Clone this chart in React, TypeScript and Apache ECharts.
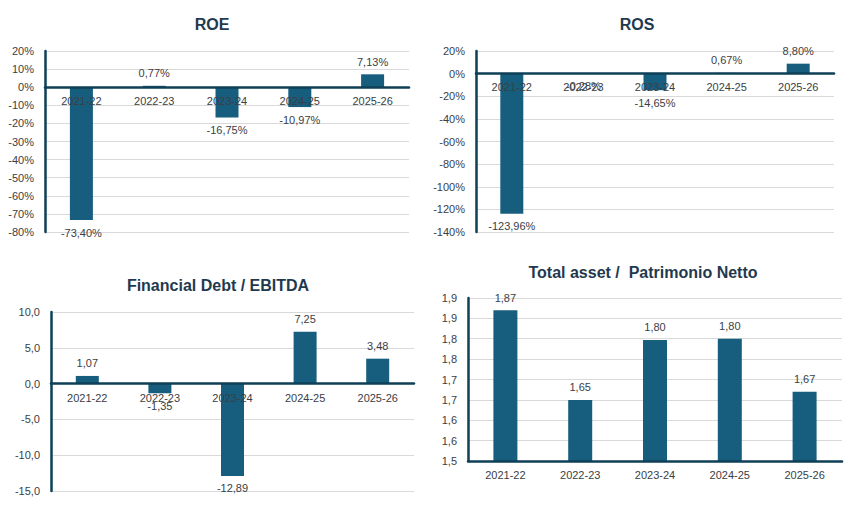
import { useEffect, useRef } from "react";
import * as echarts from "echarts";

const categories = ["2021-22", "2022-23", "2023-24", "2024-25", "2025-26"];
const roe = [-73.4, 0.77, -16.75, -10.97, 7.13];
const ros = [-123.96, -0.28, -14.65, 0.67, 8.8];
const debtEbitda = [1.07, -1.35, -12.89, 7.25, 3.48];
const assetEquity = [1.87, 1.65, 1.797, 1.8, 1.67];

const BAR = "#175E7E";
const AXIS = "#0E3F57";
const TEXT = "#3A3E45";
const TITLE = "#1F3A4F";
const FONT = "'Liberation Sans', Arial, sans-serif";

const comma = (v: number, d: number) => v.toFixed(d).replace(".", ",");

export default function App() {
  const ref = useRef<HTMLDivElement>(null);
  useEffect(() => {
    document.body.style.margin = "0";
    if (!ref.current) return;
    const chart = echarts.init(ref.current, null, { renderer: "svg" });

    const grids = [
      { left: 45, top: 51, width: 364, height: 181 },
      { left: 476, top: 51, width: 358, height: 181 },
      { left: 51, top: 312, width: 363, height: 179 },
      { left: 468, top: 298, width: 374, height: 163 },
    ];

    // value ranges of the four y axes: [min, max, interval]
    const ranges = [
      [-80, 20, 10],
      [-140, 20, 20],
      [-15, 10, 5],
      [1.5, 1.9, 0.05],
    ];

    // move the category axis (line and labels) up to the zero line
    const zeroOffset = (i: number) => {
      const [min, max] = ranges[i];
      if (min >= 0) return 0;
      return -((0 - min) / (max - min)) * grids[i].height;
    };

    const xAxis = grids.map((_, i) => ({
      type: "category",
      gridIndex: i,
      data: categories,
      offset: zeroOffset(i),
      axisTick: { show: false },
      axisLine: { onZero: false, lineStyle: { color: AXIS, width: 2.5 } },
      axisLabel: { color: TEXT, fontSize: 11, fontFamily: FONT, margin: i === 2 ? 9 : 8 },
      z: 10,
    }));

    const fmts = [
      (v: number) => `${v}%`,
      (v: number) => `${v}%`,
      (v: number) => comma(v, 1),
      (v: number) => comma(Math.round(v * 10 + 1e-6) / 10, 1),
    ];

    const yAxis = ranges.map(([min, max, interval], i) => ({
      type: "value",
      gridIndex: i,
      min,
      max,
      interval,
      axisLine: { show: true, lineStyle: { color: AXIS, width: 2.5 } },
      axisTick: { show: false },
      splitLine: { lineStyle: { color: "#D9D9D9", width: 1 } },
      axisLabel: { color: TEXT, fontSize: 11, fontFamily: FONT, margin: 11, formatter: fmts[i] },
      z: 0,
    }));

    const makeSeries = (i: number, values: number[], suffix: string, width: number) => ({
      type: "bar",
      xAxisIndex: i,
      yAxisIndex: i,
      barWidth: width,
      z: 1,
      itemStyle: { color: BAR },
      data: values.map((v) => ({
        value: v,
        label: { position: v < 0 ? "bottom" : "top" },
      })),
      label: {
        show: true,
        distance: 7,
        color: TEXT,
        fontSize: 11,
        fontFamily: FONT,
        formatter: (p: any) => comma(p.value, 2) + suffix,
      },
    });

    const titles = [
      { text: "ROE", x: 212, y: 24 },
      { text: "ROS", x: 637, y: 24 },
      { text: "Financial Debt / EBITDA", x: 218, y: 285 },
      { text: "Total asset /  Patrimonio Netto", x: 643, y: 272 },
    ];

    chart.setOption({
      animation: false,
      grid: grids,
      xAxis,
      yAxis,
      series: [
        makeSeries(0, roe, "%", 23),
        makeSeries(1, ros, "%", 23),
        makeSeries(2, debtEbitda, "", 23),
        makeSeries(3, assetEquity, "", 24),
      ],
      graphic: titles.map((t) => ({
        type: "text",
        x: t.x,
        y: t.y,
        style: {
          text: t.text,
          fill: TITLE,
          font: `bold 16px ${FONT}`,
          textAlign: "center",
          textVerticalAlign: "middle",
        },
      })),
    });
    return () => chart.dispose();
  }, []);
  return <div ref={ref} style={{ width: 857, height: 520 }} />;
}
